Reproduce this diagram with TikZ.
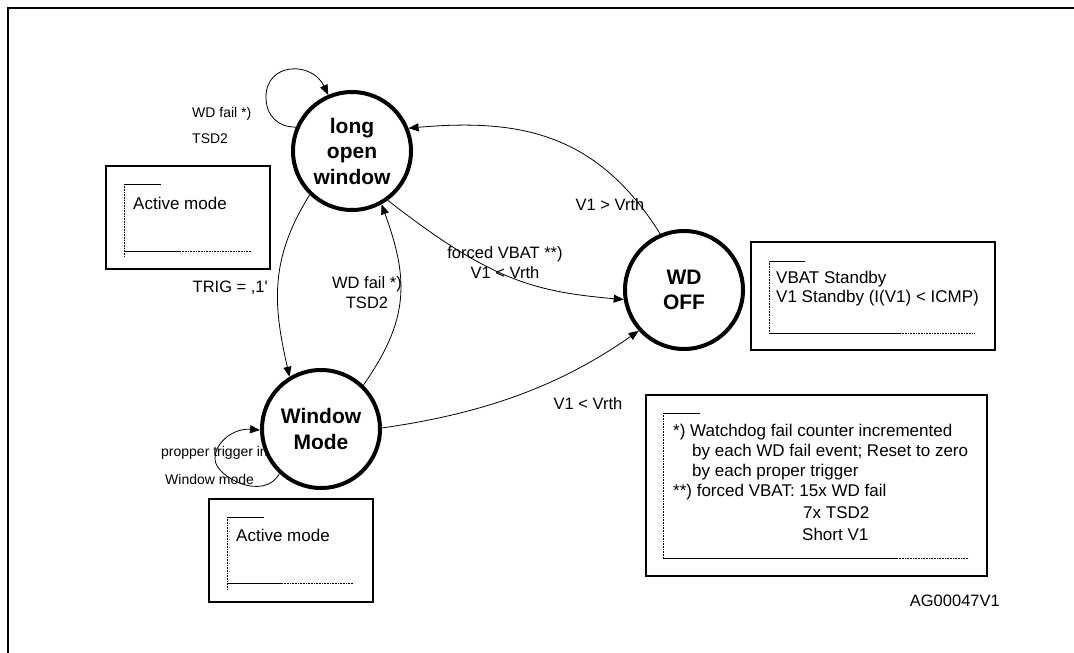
\documentclass[tikz,border=0pt]{standalone}
\usepackage{fontspec}
\setmainfont{Liberation Sans}
\usetikzlibrary{arrows.meta}
\begin{document}
\begin{tikzpicture}[x=1pt,y=-1pt,
  state/.style={circle,draw,line width=4pt,minimum size=118pt,inner sep=0pt,fill=white,align=center,font=\fontsize{21}{25.5}\selectfont\bfseries},
  edge/.style={line width=0.8pt,-{Triangle[length=10pt,width=8pt]}},
  lbl/.style={inner sep=0pt,font=\fontsize{16.5}{20}\selectfont},
  small/.style={inner sep=0pt,font=\fontsize{14}{17}\selectfont,anchor=west},
  boxtext/.style={inner sep=0pt,font=\fontsize{17}{20.4}\selectfont,anchor=west},
  outerbox/.style={line width=1.5pt},
  solidmark/.style={line width=0.8pt},
  dotmark/.style={line width=0.7pt,dash pattern=on 0.8pt off 0.8pt}]
\useasboundingbox (0,0) rectangle (1074,653);
\draw[line width=2pt] (8,653) -- (8,8) -- (1074,8);

% loop labels (drawn before the states so the circles cover them)
\node[small] (l1) at (192,114) {WD fail *)};
\node[small] (l2) at (192,139) {TSD2};
\node[small] (l3) at (161,453) {propper trigger in};
\node[small] (l4) at (165,479) {Window mode};

% states
\node[state] (lw) at (352,151) {long\\open\\window};
\node[state] (off) at (684,290) {WD\\OFF};
\node[state] (wm) at (321,429) {Window\\Mode};

% edge labels
\node[lbl,anchor=east] (trig) at (268,288) {TRIG = ,1\textquotesingle};
\node[lbl,align=center] (wdf) at (367,293) {WD fail *)\\TSD2};
\node[lbl,align=center] (fv) at (505,263) {forced VBAT **)\\V1 < Vrth};
\node[lbl] (gt) at (610,205) {V1 > Vrth};
\node[lbl] (lt) at (588,404) {V1 < Vrth};

% edges
\draw[edge] (lw.226) to[out=238,in=103,out distance=75pt,in distance=75pt] (wm.121);
\draw[edge] (wm.46) to[out=55,in=290,out distance=80pt,in distance=80pt] (lw.299);
\draw[edge] (lw.306) to[out=-38,in=175,out distance=130pt,in distance=90pt] (off.189);
\draw[edge] (off.113) to[out=122,in=5,out distance=120pt,in distance=110pt] (lw.22);
\draw[edge] (wm.1) to[out=8,in=215,out distance=110pt,in distance=90pt] (off.222);
\draw[edge] (lw.157) .. controls (277,127) and (266,115) .. (266,97) .. controls (266,62) and (312,61) .. (lw.113);
\draw[edge] (wm.227) .. controls (264,502) and (215,477) .. (215,459) .. controls (215,441) and (235,428) .. (wm.181);

% box 1
\draw[outerbox] (106,166) rectangle (270,269);
\draw[solidmark] (124,184) -- (161,184);
\draw[dotmark] (124,184) -- (124,257);
\draw[solidmark] (124,251) -- (180,251);
\draw[dotmark] (180,251) -- (252,251);
\node[boxtext] (a1) at (133,203) {Active mode};

% box 2
\draw[outerbox] (209,499) rectangle (373,602);
\draw[solidmark] (227,517) -- (264,517);
\draw[dotmark] (227,517) -- (227,590);
\draw[solidmark] (227,583) -- (282,583);
\draw[dotmark] (282,583) -- (354,583);
\node[boxtext] (a2) at (236,535) {Active mode};

% VBAT box
\draw[outerbox] (751,242) rectangle (995,350);
\draw[solidmark] (769,261) -- (805,261);
\draw[dotmark] (769,261) -- (769,333);
\draw[solidmark] (769,333) -- (900,333);
\draw[dotmark] (900,333) -- (975,333);
\node[boxtext] (v1) at (776,279) {VBAT Standby};
\node[boxtext] (v2) at (776,298) {V1 Standby (I(V1) < ICMP)};

% note box
\draw[outerbox] (646,395) rectangle (987,576);
\draw[solidmark] (663,413) -- (700,413);
\draw[dotmark] (663,413) -- (663,558);
\draw[solidmark] (663,558) -- (897,558);
\draw[dotmark] (897,558) -- (969,558);
\node[boxtext] (n1) at (673,432) {*) Watchdog fail counter incremented};
\node[boxtext] (n2) at (692,452) {by each WD fail event; Reset to zero};
\node[boxtext] (n3) at (692,472) {by each proper trigger};
\node[boxtext] (n4) at (673,492) {**) forced VBAT: 15x WD fail};
\node[boxtext] (n5) at (803,513) {7x TSD2};
\node[boxtext] (n6) at (802,534) {Short V1};

\node[lbl,anchor=east] (ag) at (1000,601) {AG00047V1};
\end{tikzpicture}
\end{document}
